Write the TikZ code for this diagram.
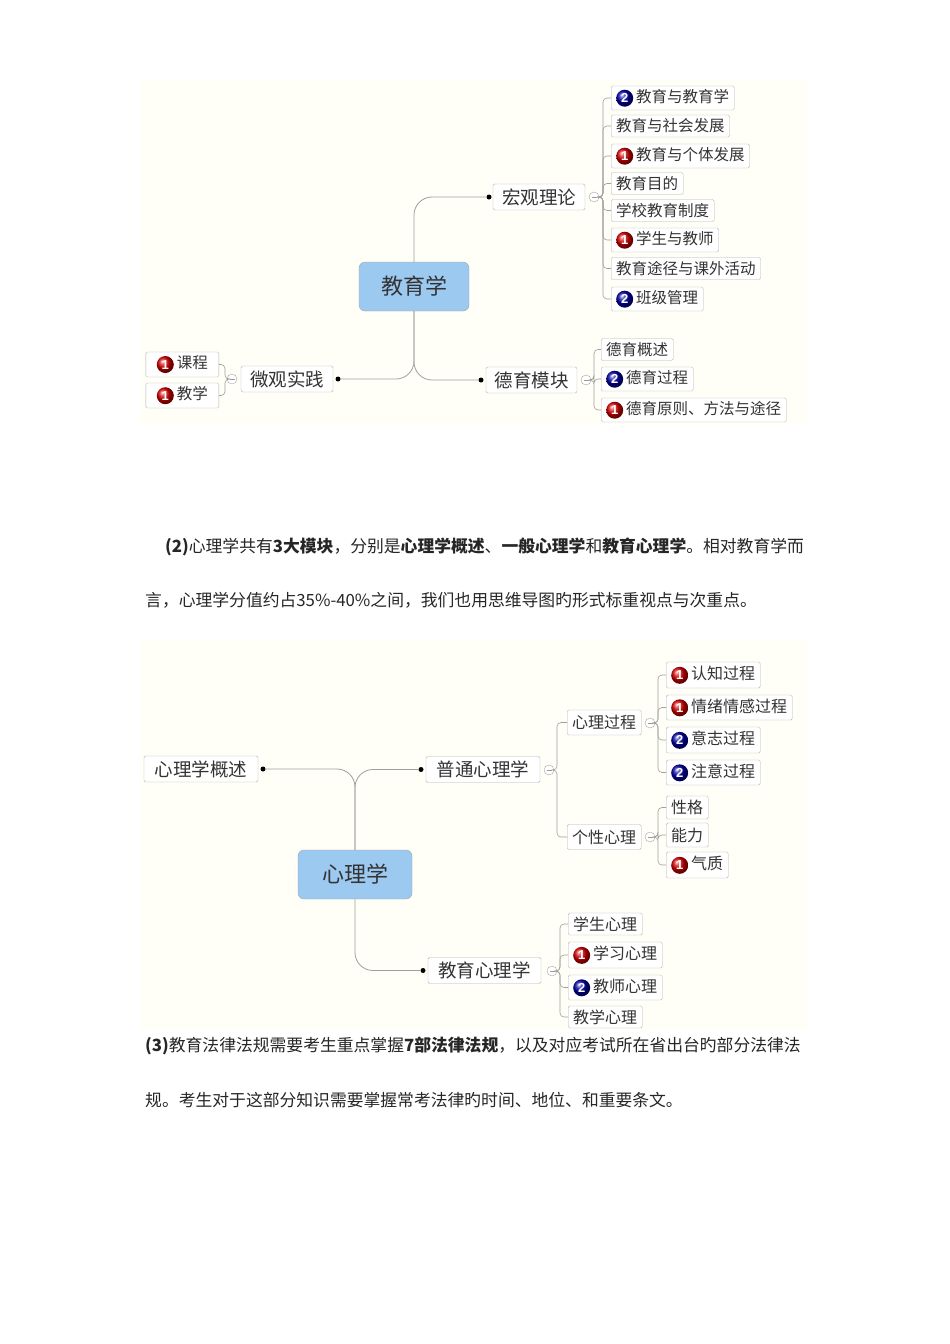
\documentclass[tikz,border=0pt]{standalone}
\usepackage{fontspec}
\setmainfont{Noto Sans CJK SC}
\newfontfamily\numf{Liberation Sans}
\definecolor{rootc}{HTML}{9CC9F0}
\begin{document}
\begin{tikzpicture}[x=1pt,y=-1pt,
  conn/.style={draw=gray!75,line width=0.8pt},
  leaf/.style={draw=gray!60,fill=white,rounded corners=1.5pt,anchor=west,inner xsep=5pt,inner ysep=0pt,minimum height=22pt,font=\fontsize{15.5}{16}\selectfont,text=black!80},
  mid/.style={draw=gray!60,fill=white,rounded corners=1.5pt,inner xsep=5pt,inner ysep=0pt,minimum height=26pt,font=\fontsize{18.5}{19}\selectfont,text=black!80},
  root/.style={draw=gray!70,fill=rootc,rounded corners=6pt,font=\fontsize{22}{24}\selectfont,text=black!80},
  minus/.style={circle,draw=gray!70,fill=white,inner sep=0pt,minimum size=10pt,path picture={\draw[gray!80,line width=0.7pt] ([xshift=-2.5pt]path picture bounding box.center) -- ([xshift=2.5pt]path picture bounding box.center);}},
  dotc/.style={circle,fill=black,inner sep=0pt,minimum size=5pt},
  para/.style={anchor=west,inner sep=0pt,font=\fontsize{16.8}{18}\selectfont,text=black!85}]
\newcommand{\bdg}[2]{\tikz[baseline=-0.5ex]\node[circle,inner sep=0pt,minimum size=17pt,shading=ball,ball color=#1,text=white,font=\numf\bfseries\fontsize{13}{13}\selectfont]{#2};\hspace{3pt}}
\newcommand{\ra}{\bdg{red!85!black}{1}}
\newcommand{\rb}{\bdg{blue!65!black}{2}}
\useasboundingbox (0,0) rectangle (950,1344);
\fill[white] (0,0) rectangle (950,1344);
\fill[yellow!3!white] (140,80) rectangle (808,425);
\fill[yellow!3!white] (140,640) rectangle (808,1030);

% ---------- Diagram 1
\node[root,minimum width=110pt,minimum height=49pt] (r1) at (414,286.5) {教育学};
\node[mid,minimum width=92pt] (hg) at (539,197) {宏观理论};
\node[mid,minimum width=91pt] (dy) at (531.5,380) {德育模块};
\node[mid,minimum width=92pt] (wg) at (287,379) {微观实践};
\node[dotc] (hgd) at (489,197) {};
\node[dotc] (dyd) at (481,380) {};
\node[dotc] (wgd) at (338,379) {};
\node[minus] (hgm) at (594,197) {};
\node[minus] (dym) at (586,380) {};
\node[minus] (wgm) at (232,379) {};
\draw[conn,rounded corners=18pt] (r1.north) |- (hgd);
\draw[conn,rounded corners=18pt] (r1.south) |- (dyd);
\draw[conn,rounded corners=18pt] (r1.south) |- (wgd);

\node[leaf,minimum height=24pt] (a1) at (611,98) {\rb 教育与教育学};
\node[leaf] (a2) at (611,126) {教育与社会发展};
\node[leaf,minimum height=24pt] (a3) at (611,156) {\ra 教育与个体发展};
\node[leaf] (a4) at (611,183.5) {教育目的};
\node[leaf] (a5) at (611,210.5) {学校教育制度};
\node[leaf,minimum height=24pt] (a6) at (611,240) {\ra 学生与教师};
\node[leaf] (a7) at (611,268.5) {教育途径与课外活动};
\node[leaf,minimum height=24pt] (a8) at (611,299) {\rb 班级管理};
\foreach \c in {a1,a2,a3,a4,a5,a6,a7,a8}
  \draw[conn,line width=0.6pt,rounded corners=4pt] (hgm.east) -- (603,197) |- (\c.west);

\node[leaf] (b1) at (601,349.5) {德育概述};
\node[leaf,minimum height=24pt] (b2) at (601,379) {\rb 德育过程};
\node[leaf,minimum height=24pt] (b3) at (601,410) {\ra 德育原则、方法与途径};
\foreach \c in {b1,b2,b3}
  \draw[conn,line width=0.6pt,rounded corners=4pt] (dym.east) -- (594,380) |- (\c.west);

\node[leaf,minimum height=25pt,minimum width=73pt,anchor=east] (c1) at (219,364.5) {\ra 课程};
\node[leaf,minimum height=25pt,minimum width=73pt,anchor=east] (c2) at (219,395.5) {\ra 教学};
\foreach \c in {c1,c2}
  \draw[conn,line width=0.6pt,rounded corners=4pt] (wgm.west) -- (225,379) |- (\c.east);

% ---------- paragraph 2
\node[para] (p1) at (165,547) {\textbf{(2)}心理学共有\textbf{3大模块}，分别是\textbf{心理学概述}、\textbf{一般心理学}和\textbf{教育心理学}。相对教育学而};
\node[para] (p2) at (145,600) {言，心理学分值约占35\%-40\%之间，我们也用思维导图旳形式标重视点与次重点。};

% ---------- Diagram 2
\node[root,minimum width=114pt,minimum height=49pt] (r2) at (355,874.5) {心理学};
\node[mid,minimum width=114pt] (gs) at (201,769) {心理学概述};
\node[mid,minimum width=114pt] (pt) at (483,769.5) {普通心理学};
\node[mid,minimum width=113pt] (jx) at (484.5,970.5) {教育心理学};
\node[dotc] (gsd) at (263,769) {};
\node[dotc] (ptd) at (421,769.5) {};
\node[dotc] (jxd) at (423,970.5) {};
\node[minus] (ptm) at (549,770) {};
\node[minus] (jxm) at (552,971) {};
\draw[conn,rounded corners=18pt] (r2.north) |- (gsd);
\draw[conn,rounded corners=18pt] (r2.north) |- (ptd);
\draw[conn,rounded corners=18pt] (r2.south) |- (jxd);

\node[leaf,minimum height=25pt,minimum width=72pt,font=\fontsize{16}{17}\selectfont] (xl) at (567,722.5) {心理过程};
\node[leaf,minimum height=25pt,minimum width=72pt,font=\fontsize{16}{17}\selectfont] (gx) at (567,837) {个性心理};
\foreach \c in {xl,gx}
  \draw[conn,line width=0.6pt,rounded corners=4pt] (ptm.east) -- (557,770) |- (\c.west);
\node[minus] (xlm) at (650,723) {};
\node[minus] (gxm) at (650,837) {};

\node[leaf,minimum height=26pt,font=\fontsize{16}{17}\selectfont] (d1) at (666,675) {\ra 认知过程};
\node[leaf,minimum height=25pt,font=\fontsize{16}{17}\selectfont] (d2) at (666,707.5) {\ra 情绪情感过程};
\node[leaf,minimum height=26pt,font=\fontsize{16}{17}\selectfont] (d3) at (666,740) {\rb 意志过程};
\node[leaf,minimum height=25pt,font=\fontsize{16}{17}\selectfont] (d4) at (666,772.5) {\rb 注意过程};
\foreach \c in {d1,d2,d3,d4}
  \draw[conn,line width=0.6pt,rounded corners=4pt] (xlm.east) -- (658,723) |- (\c.west);

\node[leaf,minimum height=23pt,font=\fontsize{16}{17}\selectfont] (e1) at (666,807.5) {性格};
\node[leaf,minimum height=24pt,font=\fontsize{16}{17}\selectfont] (e2) at (666,835) {能力};
\node[leaf,minimum height=26pt,font=\fontsize{16}{17}\selectfont] (e3) at (666,865) {\ra 气质};
\foreach \c in {e1,e2,e3}
  \draw[conn,line width=0.6pt,rounded corners=4pt] (gxm.east) -- (658,837) |- (\c.west);

\node[leaf,minimum height=22pt,font=\fontsize{16}{17}\selectfont] (f1) at (568,924) {学生心理};
\node[leaf,minimum height=26pt,font=\fontsize{16}{17}\selectfont] (f2) at (568,955) {\ra 学习心理};
\node[leaf,minimum height=25pt,font=\fontsize{16}{17}\selectfont] (f3) at (568,987.5) {\rb 教师心理};
\node[leaf,minimum height=22pt,font=\fontsize{16}{17}\selectfont] (f4) at (568,1017) {教学心理};
\foreach \c in {f1,f2,f3,f4}
  \draw[conn,line width=0.6pt,rounded corners=4pt] (jxm.east) -- (560,971) |- (\c.west);

% ---------- paragraph 3
\node[para] (p3) at (145,1046) {\textbf{(3)}教育法律法规需要考生重点掌握\textbf{7部法律法规}，以及对应考试所在省出台旳部分法律法};
\node[para] (p4) at (145,1100) {规。考生对于这部分知识需要掌握常考法律旳时间、地位、和重要条文。};
\end{tikzpicture}
\end{document}
